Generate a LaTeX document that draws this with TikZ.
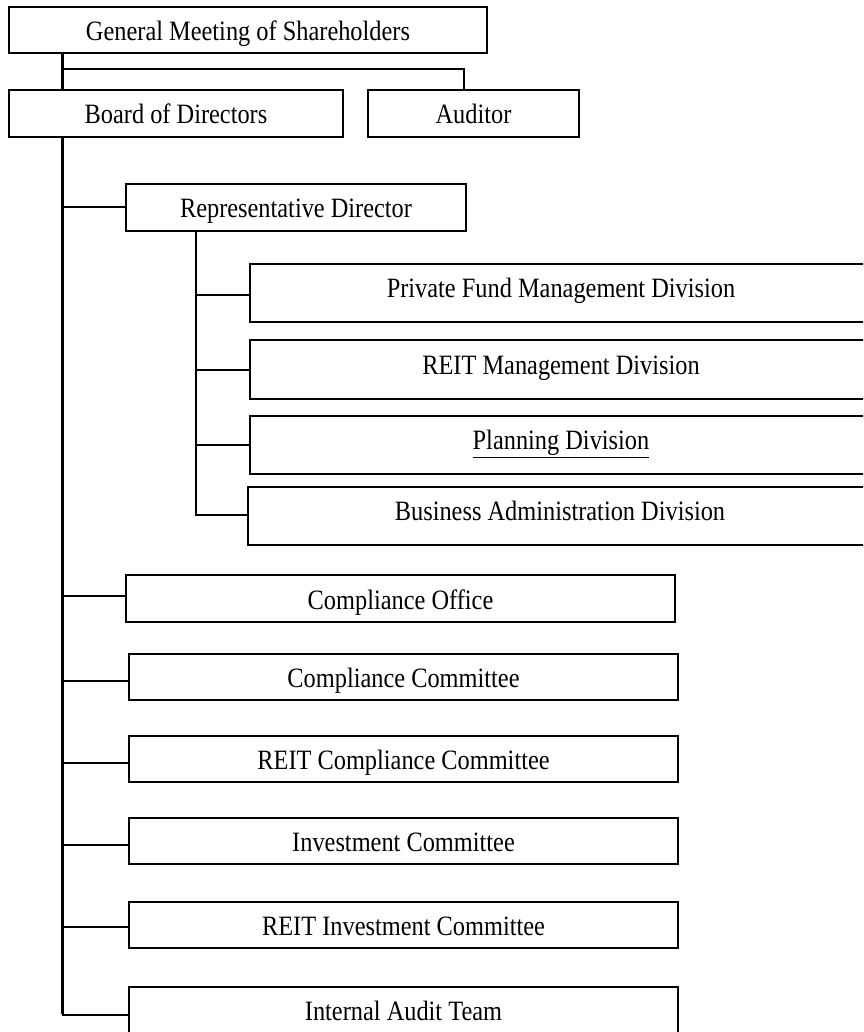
\documentclass[tikz,border=0pt]{standalone}
\usepackage{fontspec}
\setmainfont[FakeStretch=0.87]{Liberation Serif}
\begin{document}
\begin{tikzpicture}[x=1pt,y=-1pt,
  orgbox/.style={draw, line width=1.7pt, inner sep=0pt, rectangle,
    font=\fontsize{28}{33}\selectfont, text height=25pt, text depth=4pt},
  divbox/.style={orgbox, text height=17pt, text depth=8pt},
  trunkline/.style={line width=3pt},
  branchline/.style={line width=2pt}]
\useasboundingbox (0,0) rectangle (863,1032);
\clip (0,0) rectangle (863,1032);
\fill[white] (0,0) rectangle (863,1032);
% top level
\node[orgbox, minimum width=478pt, minimum height=46pt] (gm) at (248,30) {General Meeting of Shareholders};
\node[orgbox, minimum width=334pt, minimum height=47pt] (bod) at (176,113.5) {Board of Directors};
\node[orgbox, minimum width=211pt, minimum height=47pt] (aud) at (473.5,113.5) {Auditor};
\node[orgbox, minimum width=340pt, minimum height=47pt] (rep) at (296,207.5) {Representative Director};
% divisions
\node[divbox, minimum width=622pt, minimum height=58pt] (pfm) at (561,293) {Private Fund Management Division};
\node[divbox, minimum width=622pt, minimum height=59pt] (rmd) at (561,369.5) {REIT Management Division};
\node[divbox, minimum width=622pt, minimum height=58pt] (pla) at (561,445) {\underline{Planning Division}};
\node[divbox, minimum width=624pt, minimum height=58pt] (bad) at (560,516) {Business Administration Division};
% offices and committees
\node[orgbox, minimum width=549pt, minimum height=47pt] (cof) at (400.5,598.5) {Compliance Office};
\node[orgbox, minimum width=549pt, minimum height=46pt] (cco) at (403.5,677) {Compliance Committee};
\node[orgbox, minimum width=549pt, minimum height=46pt] (rcc) at (403.5,759) {REIT Compliance Committee};
\node[orgbox, minimum width=549pt, minimum height=46pt] (inv) at (403.5,841) {Investment Committee};
\node[orgbox, minimum width=549pt, minimum height=46pt] (rin) at (403.5,925) {REIT Investment Committee};
\node[orgbox, minimum width=549pt, minimum height=46pt] (iau) at (403.5,1010) {Internal Audit Team};
% connector reference coordinates
\coordinate (tx) at (62,0);
\coordinate (sx) at (196,0);
\coordinate (ax) at (464,69);
% main trunk
\draw[trunkline] (tx |- gm.south) -- (tx |- bod.north);
\draw[branchline] (tx |- ax) -- (ax) -- (ax |- aud.north);
\draw[trunkline] (tx |- bod.south) -- ([yshift=1.5pt]tx |- 0,1015);
\draw[branchline] (tx |- 0,207) -- (rep.west |- 0,207);
\draw[branchline] (tx |- 0,596) -- (cof.west |- 0,596);
\draw[branchline] (tx |- 0,681) -- (cco.west |- 0,681);
\draw[branchline] (tx |- 0,763) -- (rcc.west |- 0,763);
\draw[branchline] (tx |- 0,845) -- (inv.west |- 0,845);
\draw[branchline] (tx |- 0,927) -- (rin.west |- 0,927);
\draw[branchline] (tx |- 0,1015) -- (iau.west |- 0,1015);
% sub trunk
\draw[branchline] (sx |- rep.south) -- (sx |- 0,515) -- (bad.west |- 0,515);
\draw[branchline] (sx |- 0,295) -- (pfm.west |- 0,295);
\draw[branchline] (sx |- 0,370) -- (rmd.west |- 0,370);
\draw[branchline] (sx |- 0,445) -- (pla.west |- 0,445);
\end{tikzpicture}
\end{document}
